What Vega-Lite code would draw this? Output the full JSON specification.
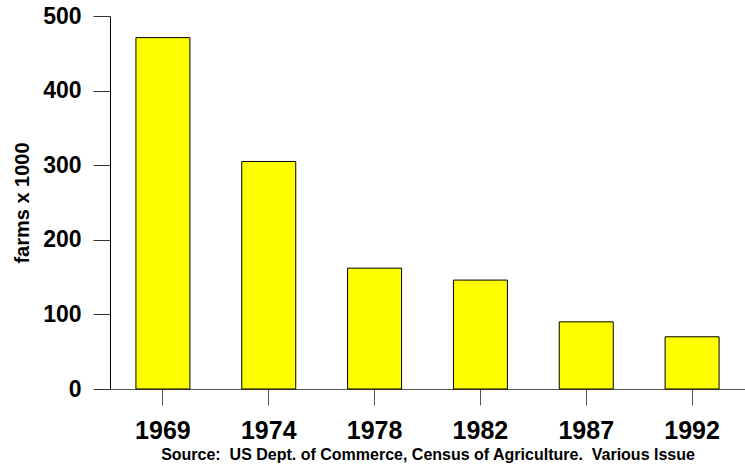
{
  "$schema": "https://vega.github.io/schema/vega-lite/v6.json",
  "autosize": {"type": "none"},
  "padding": {"left": 110, "top": 16, "right": 0, "bottom": 80},
  "width": 635,
  "height": 373,
  "background": "white",
  "config": {"view": {"stroke": null}, "font": "Liberation Sans"},
  "data": {"values": [
    {"year": "1969", "farms": 471},
    {"year": "1974", "farms": 305},
    {"year": "1978", "farms": 162},
    {"year": "1982", "farms": 146},
    {"year": "1987", "farms": 90},
    {"year": "1992", "farms": 70}
  ]},
  "mark": {"type": "bar", "color": "#FFFF00", "stroke": "#000000", "strokeWidth": 1, "width": {"band": 0.51}},
  "encoding": {
    "x": {
      "field": "year", "type": "ordinal",
      "scale": {"paddingInner": 0, "paddingOuter": 0},
      "axis": {
        "title": "Source:\u00a0 US Dept. of Commerce, Census of Agriculture.\u00a0 Various Issue",
        "titleFont": "Liberation Sans", "titleFontSize": 16, "titleFontWeight": "bold", "titleColor": "#000",
        "titlePadding": 3,
        "labelAngle": 0, "labelFont": "Liberation Sans", "labelFontSize": 25, "labelFontWeight": "bold", "labelColor": "#000",
        "labelPadding": 13,
        "tickSize": 16, "tickColor": "#555", "domainColor": "#555", "tickWidth": 1, "domainWidth": 1
      }
    },
    "y": {
      "field": "farms", "type": "quantitative",
      "scale": {"domain": [0, 500], "nice": false},
      "axis": {
        "title": "farms x 1000",
        "values": [0, 100, 200, 300, 400, 500],
        "grid": false,
        "titleFont": "Liberation Sans", "titleFontSize": 20, "titleFontWeight": "bold", "titleColor": "#000",
        "titlePadding": 10,
        "labelFont": "Liberation Sans", "labelFontSize": 23, "labelFontWeight": "bold", "labelColor": "#000",
        "labelPadding": 12,
        "tickSize": 17, "tickColor": "#333", "domainColor": "#000", "tickWidth": 1, "domainWidth": 1
      }
    }
  }
}
